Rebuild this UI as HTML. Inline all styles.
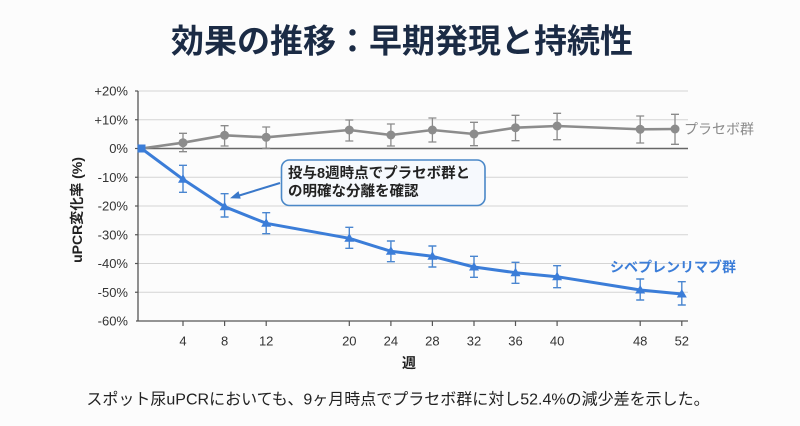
<!DOCTYPE html>
<html><head><meta charset="utf-8"><style>
html,body{margin:0;padding:0;background:#fcfcfc;}
svg{display:block;}
text{font-family:"Liberation Sans","Noto Sans CJK JP",sans-serif;}
</style></head><body>
<svg width="800" height="426" viewBox="0 0 800 426" xmlns="http://www.w3.org/2000/svg">
<rect width="800" height="426" fill="#fcfcfc"/>
<text x="402" y="41" text-anchor="middle" dominant-baseline="central" font-size="33" font-weight="bold" fill="#1b2b45">効果の推移：早期発現と持続性</text>

<!-- grid -->
<g stroke="#d4d4d4" stroke-width="1">
<line x1="138" y1="91" x2="688" y2="91"/>
<line x1="138" y1="119.75" x2="688" y2="119.75"/>
<line x1="138" y1="177.25" x2="688" y2="177.25"/>
<line x1="138" y1="206" x2="688" y2="206"/>
<line x1="138" y1="234.75" x2="688" y2="234.75"/>
<line x1="138" y1="263.5" x2="688" y2="263.5"/>
<line x1="138" y1="292.25" x2="688" y2="292.25"/>
</g>
<line x1="138" y1="148.5" x2="688" y2="148.5" stroke="#666" stroke-width="1.5"/>
<line x1="138" y1="91" x2="138" y2="321" stroke="#555" stroke-width="1.3"/>
<line x1="136" y1="321" x2="688" y2="321" stroke="#555" stroke-width="1.3"/>
<g stroke="#555" stroke-width="1.2">
<line x1="135" y1="91" x2="138" y2="91"/><line x1="135" y1="119.75" x2="138" y2="119.75"/><line x1="135" y1="148.5" x2="138" y2="148.5"/><line x1="135" y1="177.25" x2="138" y2="177.25"/><line x1="135" y1="206" x2="138" y2="206"/><line x1="135" y1="234.75" x2="138" y2="234.75"/><line x1="135" y1="263.5" x2="138" y2="263.5"/><line x1="135" y1="292.25" x2="138" y2="292.25"/>
<line x1="183" y1="321" x2="183" y2="326"/><line x1="224.6" y1="321" x2="224.6" y2="326"/><line x1="266.2" y1="321" x2="266.2" y2="326"/><line x1="349.3" y1="321" x2="349.3" y2="326"/><line x1="390.9" y1="321" x2="390.9" y2="326"/><line x1="432.4" y1="321" x2="432.4" y2="326"/><line x1="474" y1="321" x2="474" y2="326"/><line x1="515.5" y1="321" x2="515.5" y2="326"/><line x1="557.1" y1="321" x2="557.1" y2="326"/><line x1="640.2" y1="321" x2="640.2" y2="326"/><line x1="681.8" y1="321" x2="681.8" y2="326"/>
</g>

<!-- y tick labels -->
<g font-size="13" fill="#333" text-anchor="end" dominant-baseline="central">
<text x="128" y="91">+20%</text>
<text x="128" y="119.75">+10%</text>
<text x="128" y="148.5">0%</text>
<text x="128" y="177.25">-10%</text>
<text x="128" y="206">-20%</text>
<text x="128" y="234.75">-30%</text>
<text x="128" y="263.5">-40%</text>
<text x="128" y="292.25">-50%</text>
<text x="128" y="321">-60%</text>
</g>
<g font-size="13" fill="#333" text-anchor="middle" dominant-baseline="central">
<text x="183" y="341">4</text><text x="224.6" y="341">8</text><text x="266.2" y="341">12</text><text x="349.3" y="341">20</text><text x="390.9" y="341">24</text><text x="432.4" y="341">28</text><text x="474" y="341">32</text><text x="515.5" y="341">36</text><text x="557.1" y="341">40</text><text x="640.2" y="341">48</text><text x="681.8" y="341">52</text>
</g>
<text x="409" y="363" font-size="14" font-weight="bold" fill="#222" text-anchor="middle" dominant-baseline="central">週</text>
<text transform="translate(77,210) rotate(-90)" font-size="14" font-weight="bold" fill="#222" text-anchor="middle" dominant-baseline="central">uPCR変化率 (%)</text>

<!-- placebo -->
<g stroke="#8a8a8a" stroke-width="1.3">
<path d="M183 133.3V151.7M179 133.3H187M179 151.7H187"/>
<path d="M224.6 125.7V146M220.6 125.7H228.6M220.6 146H228.6"/>
<path d="M266.2 127V148.3M262.2 127H270.2M262.2 148.3H270.2"/>
<path d="M349.3 120V141M345.3 120H353.3M345.3 141H353.3"/>
<path d="M390.9 124V146M386.9 124H394.9M386.9 146H394.9"/>
<path d="M432.4 118V142M428.4 118H436.4M428.4 142H436.4"/>
<path d="M474 122.3V145.7M470 122.3H478M470 145.7H478"/>
<path d="M515.5 115.3V140.7M511.5 115.3H519.5M511.5 140.7H519.5"/>
<path d="M557.1 113.3V139.7M553.1 113.3H561.1M553.1 139.7H561.1"/>
<path d="M640.2 116V143M636.2 116H644.2M636.2 143H644.2"/>
<path d="M675 114.3V144.3M671 114.3H679M671 144.3H679"/>
</g>
<polyline fill="none" stroke="#8c8c8c" stroke-width="2.6" stroke-linejoin="round" points="141.5,148.5 183,142.7 224.6,135.3 266.2,137.3 349.3,130 390.9,135 432.4,130 474,134 515.5,127.7 557.1,126 640.2,129.3 675,129"/>
<g fill="#8c8c8c">
<circle cx="183" cy="142.7" r="4.5"/><circle cx="224.6" cy="135.3" r="4.5"/><circle cx="266.2" cy="137.3" r="4.5"/><circle cx="349.3" cy="130" r="4.5"/><circle cx="390.9" cy="135" r="4.5"/><circle cx="432.4" cy="130" r="4.5"/><circle cx="474" cy="134" r="4.5"/><circle cx="515.5" cy="127.7" r="4.5"/><circle cx="557.1" cy="126" r="4.5"/><circle cx="640.2" cy="129.3" r="4.5"/><circle cx="675" cy="129" r="4.5"/>
</g>
<text x="684" y="129" font-size="14" fill="#8a8a8a" dominant-baseline="central">プラセボ群</text>

<!-- blue -->
<g stroke="#4a86d0" stroke-width="1.4">
<path d="M183 165.3V192.3M179 165.3H187M179 192.3H187"/>
<path d="M224.6 193.7V217M220.6 193.7H228.6M220.6 217H228.6"/>
<path d="M266.2 212.7V233.7M262.2 212.7H270.2M262.2 233.7H270.2"/>
<path d="M349.3 227.3V248.3M345.3 227.3H353.3M345.3 248.3H353.3"/>
<path d="M390.9 241V261.7M386.9 241H394.9M386.9 261.7H394.9"/>
<path d="M432.4 246V267M428.4 246H436.4M428.4 267H436.4"/>
<path d="M474 256.3V277.3M470 256.3H478M470 277.3H478"/>
<path d="M515.5 262.3V283.3M511.5 262.3H519.5M511.5 283.3H519.5"/>
<path d="M557.1 265.7V287.7M553.1 265.7H561.1M553.1 287.7H561.1"/>
<path d="M640.2 279V300M636.2 279H644.2M636.2 300H644.2"/>
<path d="M681.8 281.7V305M677.8 281.7H685.8M677.8 305H685.8"/>
</g>
<polyline fill="none" stroke="#3b7dd8" stroke-width="3" stroke-linejoin="round" points="141.5,148.5 183,179.3 224.6,206.7 266.2,223.3 349.3,238.3 390.9,251.3 432.4,256.3 474,267 515.5,272.7 557.1,276.7 640.2,290 681.8,294"/>
<g fill="#3b7dd8">
<rect x="137.5" y="144.5" width="8" height="8"/>
<path d="M183 174.3l5 8.5h-10z"/>
<path d="M224.6 201.7l5 8.5h-10z"/>
<path d="M266.2 218.3l5 8.5h-10z"/>
<path d="M349.3 233.3l5 8.5h-10z"/>
<path d="M390.9 246.3l5 8.5h-10z"/>
<path d="M432.4 251.3l5 8.5h-10z"/>
<path d="M474 262l5 8.5h-10z"/>
<path d="M515.5 267.7l5 8.5h-10z"/>
<path d="M557.1 271.7l5 8.5h-10z"/>
<path d="M640.2 285l5 8.5h-10z"/>
<path d="M681.8 289l5 8.5h-10z"/>
</g>
<text x="610" y="267" font-size="14" font-weight="bold" fill="#3b7dd8" dominant-baseline="central">シベプレンリマブ群</text>

<!-- annotation -->
<rect x="281.5" y="160" width="203.5" height="45.5" rx="8" fill="#f6f9fd" stroke="#4a88c8" stroke-width="1.6"/>
<line x1="280" y1="183" x2="236" y2="196.5" stroke="#3a78c9" stroke-width="2"/>
<path d="M230 198.3l8.5-7.2l2.2 7.5z" fill="#3a78c9"/>
<g font-size="14.5" font-weight="bold" fill="#222" dominant-baseline="central">
<text x="288" y="174">投与8週時点でプラセボ群と</text>
<text x="288" y="192">の明確な分離を確認</text>
</g>

<text x="398" y="400" font-size="16" fill="#222" text-anchor="middle" dominant-baseline="central">スポット尿uPCRにおいても、9ヶ月時点でプラセボ群に対し52.4%の減少差を示した。</text>
</svg>
</body></html>
